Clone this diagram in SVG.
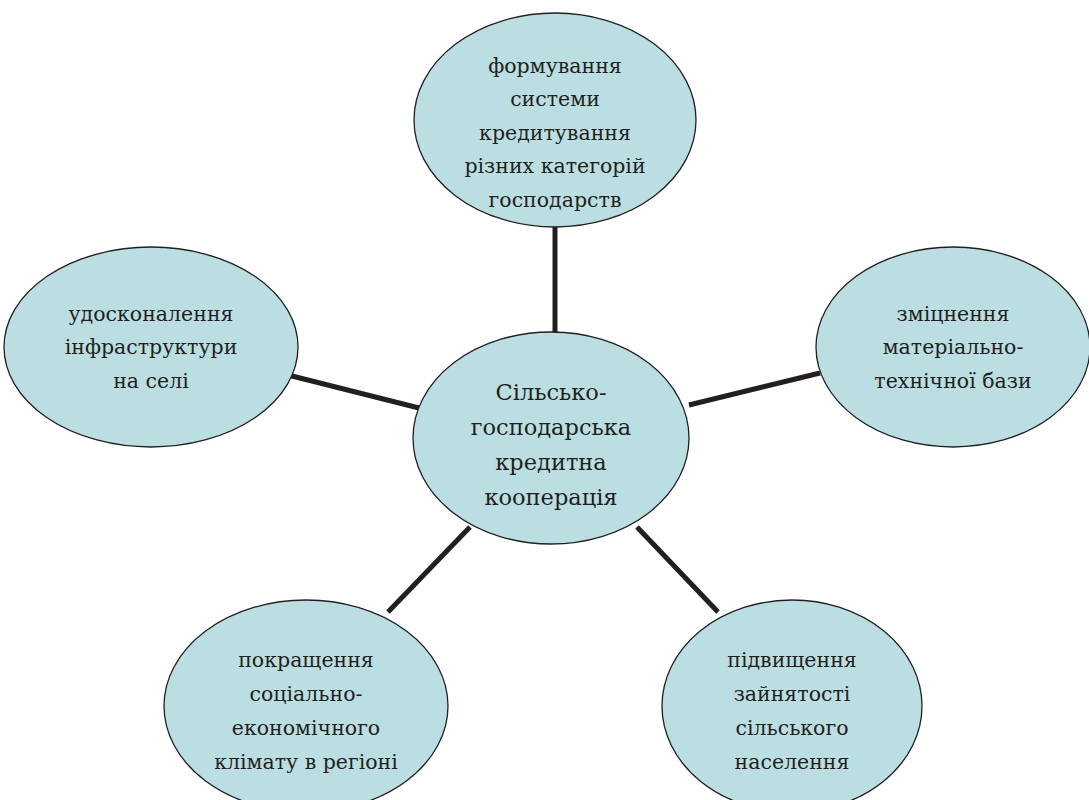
<svg xmlns="http://www.w3.org/2000/svg" width="1089" height="800" viewBox="0 0 1089 800">
<style>
.n{fill:#bbdee2;stroke:#231f20;stroke-width:1.3}
.t{font-family:'DejaVu Serif',serif;font-size:20.5px;fill:#231f20;text-anchor:middle}
.tc{font-size:22.5px}
.c{stroke:#231f20;stroke-width:5;fill:none}
</style>
<rect width="1089" height="800" fill="#ffffff"/>
<g id="connectors">
<line class="c" x1="555" y1="227" x2="555" y2="333"/>
<line class="c" x1="288" y1="375" x2="419" y2="408"/>
<line class="c" x1="689" y1="405" x2="820" y2="373"/>
<line class="c" x1="388" y1="612" x2="470" y2="527"/>
<line class="c" x1="637" y1="527" x2="718" y2="612"/>
</g>
<g id="center">
<ellipse class="n" cx="551" cy="438" rx="138" ry="106"/>
<text class="t tc"><tspan x="551" y="400">Сільсько-</tspan><tspan x="551" y="435">господарська</tspan><tspan x="551" y="470">кредитна</tspan><tspan x="551" y="505">кооперація</tspan></text>
</g>
<g id="top">
<ellipse class="n" cx="555" cy="120" rx="141" ry="107"/>
<text class="t"><tspan x="555" y="73">формування</tspan><tspan x="555" y="106">системи</tspan><tspan x="555" y="140">кредитування</tspan><tspan x="555" y="173">різних категорій</tspan><tspan x="555" y="207">господарств</tspan></text>
</g>
<g id="left">
<ellipse class="n" cx="151" cy="347" rx="147" ry="100"/>
<text class="t"><tspan x="151" y="321">удосконалення</tspan><tspan x="151" y="354">інфраструктури</tspan><tspan x="151" y="388">на селі</tspan></text>
</g>
<g id="right">
<ellipse class="n" cx="953" cy="347" rx="137" ry="100"/>
<text class="t"><tspan x="953" y="321">зміцнення</tspan><tspan x="953" y="354">матеріально-</tspan><tspan x="953" y="388">технічної бази</tspan></text>
</g>
<g id="bottom-left">
<ellipse class="n" cx="306" cy="706" rx="142" ry="106"/>
<text class="t"><tspan x="306" y="667">покращення</tspan><tspan x="306" y="701">соціально-</tspan><tspan x="306" y="735">економічного</tspan><tspan x="306" y="769">клімату в регіоні</tspan></text>
</g>
<g id="bottom-right">
<ellipse class="n" cx="792" cy="706" rx="130" ry="106"/>
<text class="t"><tspan x="792" y="667">підвищення</tspan><tspan x="792" y="701">зайнятості</tspan><tspan x="792" y="735">сільського</tspan><tspan x="792" y="769">населення</tspan></text>
</g>
</svg>
